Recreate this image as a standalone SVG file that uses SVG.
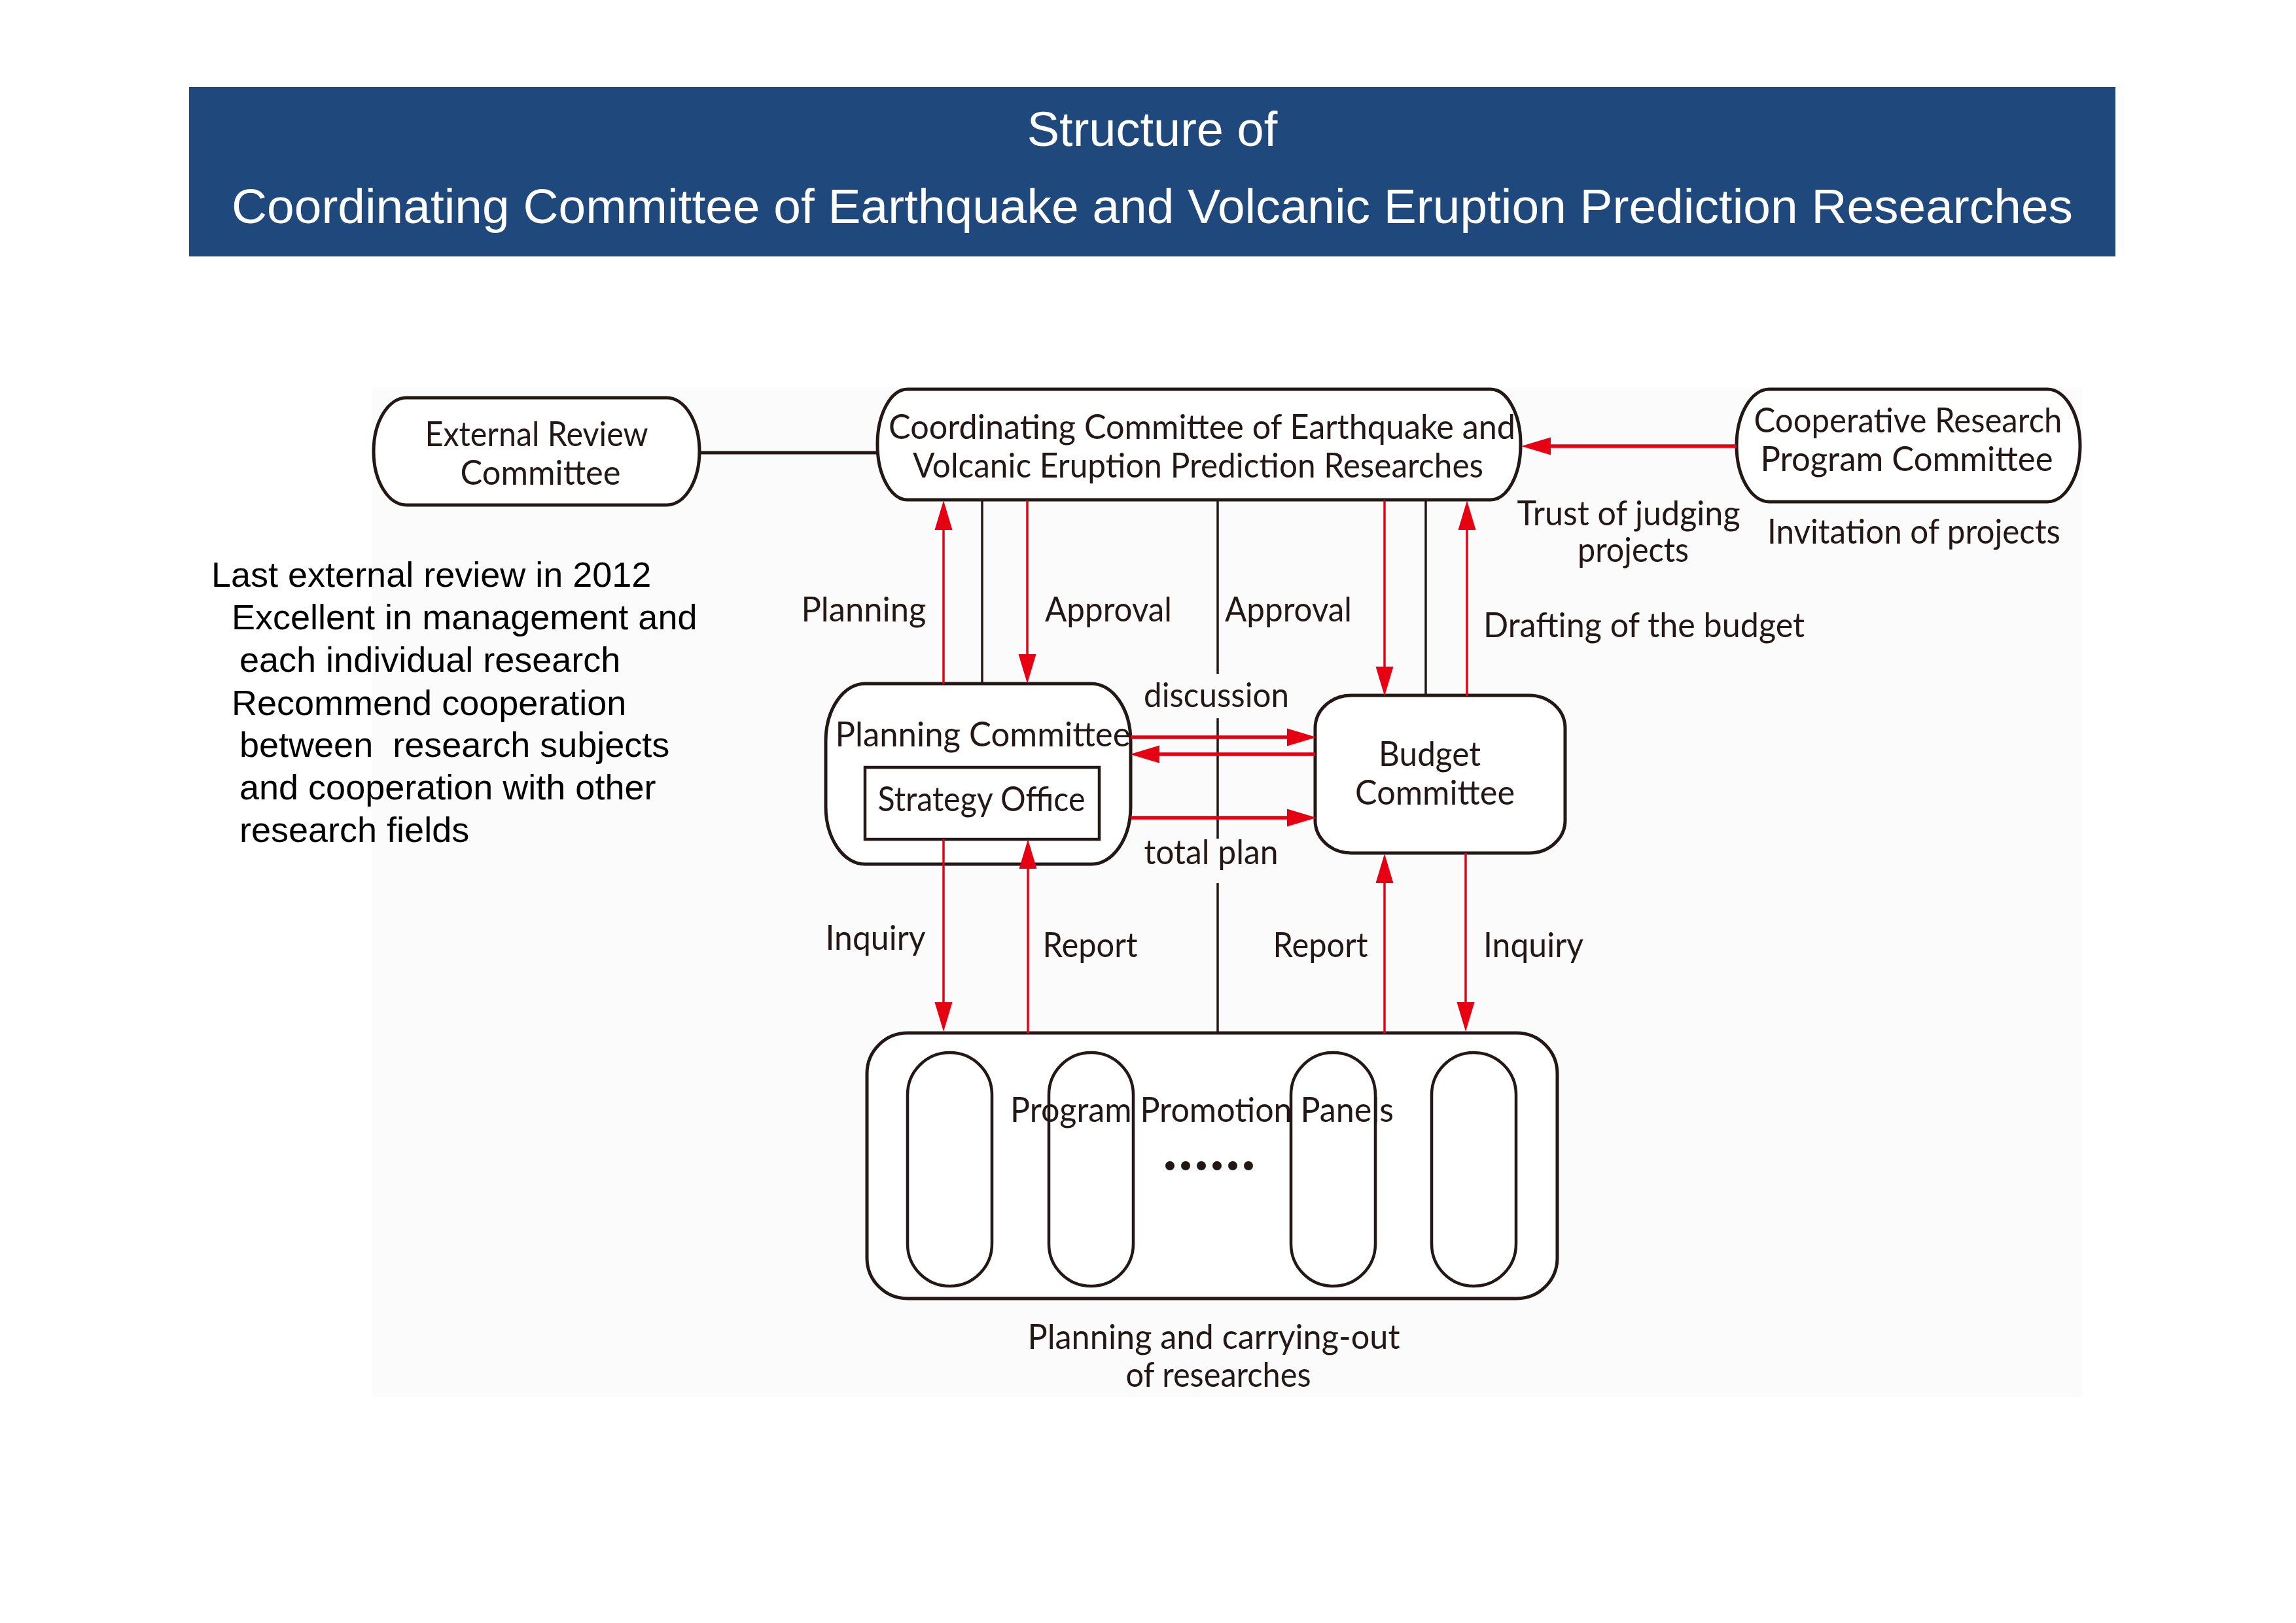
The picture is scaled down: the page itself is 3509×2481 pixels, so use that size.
<svg xmlns="http://www.w3.org/2000/svg" width="3509" height="2481" viewBox="0 0 3509 2481">
<style>
.bg{fill:#ffffff}
.panelbg{fill:#fbfbfb}
.node{fill:#ffffff;stroke:#231815;stroke-width:5}
.pill{fill:none;stroke:#231815;stroke-width:4.5}
.lbl{font-family:Lato,"Open Sans","Liberation Sans",sans-serif;font-size:52px;fill:#231815;text-anchor:middle}
.lbll{font-family:Lato,"Open Sans","Liberation Sans",sans-serif;font-size:52px;fill:#231815;text-anchor:start}
.note{font-family:"Liberation Sans",Arial,sans-serif;font-size:54px;fill:#000000;white-space:pre}
.title{font-family:"Liberation Sans",Arial,sans-serif;font-size:74px;fill:#ffffff;text-anchor:middle}
.red{stroke:#e60012;stroke-width:3.5;fill:none}
.redt{stroke:#e60012;stroke-width:5.5;fill:none}
.blk{stroke:#231815;stroke-width:3.5;fill:none}
.blkt{stroke:#231815;stroke-width:5;fill:none}
.dot{fill:#231815}
</style>
<defs>
<marker id="ah" markerUnits="userSpaceOnUse" markerWidth="46" markerHeight="28" refX="5" refY="14" orient="auto" viewBox="0 0 46 28">
<path d="M0,0.5 L45,14 L0,27.5 Z" fill="#e60012"/>
</marker>
</defs>
<rect class="bg" x="0" y="0" width="3509" height="2481"/>
<rect class="panelbg" x="568" y="593" width="2614" height="1542"/>

<g id="title">
<rect x="289" y="133" width="2944" height="259" fill="#1f497d"/>
<text class="title" x="1761" y="223">Structure of</text>
<text class="title" x="1761" y="341" textLength="2814" lengthAdjust="spacingAndGlyphs">Coordinating Committee of Earthquake and Volcanic Eruption Prediction Researches</text>
</g>

<g id="review-note">
<text class="note" x="323" y="897">Last external review in 2012</text>
<text class="note" x="354" y="962">Excellent in management and</text>
<text class="note" x="366" y="1027">each individual research</text>
<text class="note" x="354" y="1093">Recommend cooperation</text>
<text class="note" x="366" y="1157">between  research subjects</text>
<text class="note" x="366" y="1222">and cooperation with other</text>
<text class="note" x="366" y="1287">research fields</text>
</g>

<g id="external-review">
<rect class="node" x="571" y="608" width="498" height="164" rx="50" ry="82"/>
<text class="lbl" x="820" y="682" textLength="341" lengthAdjust="spacingAndGlyphs">External Review</text>
<text class="lbl" x="826" y="741" textLength="245" lengthAdjust="spacingAndGlyphs">Committee</text>
</g>

<g id="coordinating">
<rect class="node" x="1341" y="595" width="983" height="169" rx="46" ry="84"/>
<text class="lbl" x="1837" y="671" textLength="958" lengthAdjust="spacingAndGlyphs">Coordinating Committee of Earthquake and</text>
<text class="lbl" x="1831" y="730" textLength="872" lengthAdjust="spacingAndGlyphs">Volcanic Eruption Prediction Researches</text>
</g>

<g id="cooperative">
<rect class="node" x="2654" y="595" width="525" height="172" rx="50" ry="86"/>
<text class="lbl" x="2916" y="661" textLength="471" lengthAdjust="spacingAndGlyphs">Cooperative Research</text>
<text class="lbl" x="2914" y="720" textLength="447" lengthAdjust="spacingAndGlyphs">Program Committee</text>
</g>

<g id="planning">
<rect class="node" x="1262" y="1045" width="466" height="276" rx="60" ry="88"/>
<text class="lbl" x="1502" y="1141" textLength="451" lengthAdjust="spacingAndGlyphs">Planning Committee</text>
</g>

<g id="strategy-office">
<rect x="1322" y="1173" width="358" height="110" fill="#ffffff" stroke="#231815" stroke-width="4.5"/>
<text class="lbl" x="1500" y="1240" textLength="317" lengthAdjust="spacingAndGlyphs">Strategy Office</text>
</g>

<g id="budget">
<rect class="node" x="2010" y="1063" width="382" height="241" rx="55" ry="50"/>
<text class="lbl" x="2185" y="1171" textLength="156" lengthAdjust="spacingAndGlyphs">Budget</text>
<text class="lbl" x="2193" y="1230" textLength="244" lengthAdjust="spacingAndGlyphs">Committee</text>
</g>

<g id="panels">
<rect class="node" x="1325" y="1579" width="1055" height="406" rx="62" ry="62"/>
<rect class="pill" x="1387" y="1609" width="129" height="357" rx="64.5" ry="64.5"/>
<rect class="pill" x="1603" y="1609" width="129" height="357" rx="64.5" ry="64.5"/>
<rect class="pill" x="1973" y="1609" width="129" height="357" rx="64.5" ry="64.5"/>
<rect class="pill" x="2188" y="1609" width="129" height="357" rx="64.5" ry="64.5"/>
<text class="lbl" x="1837" y="1715" textLength="586" lengthAdjust="spacingAndGlyphs">Program Promotion Panels</text>
<circle class="dot" cx="1788" cy="1782" r="7"/>
<circle class="dot" cx="1812" cy="1782" r="7"/>
<circle class="dot" cx="1836" cy="1782" r="7"/>
<circle class="dot" cx="1860" cy="1782" r="7"/>
<circle class="dot" cx="1884" cy="1782" r="7"/>
<circle class="dot" cx="1908" cy="1782" r="7"/>
</g>

<g id="panels-caption">
<text class="lbl" x="1855" y="2062" textLength="569" lengthAdjust="spacingAndGlyphs">Planning and carrying-out</text>
<text class="lbl" x="1862" y="2120" textLength="283" lengthAdjust="spacingAndGlyphs">of researches</text>
</g>

<g id="connectors">
<path class="blkt" d="M1069,692 H1341"/>
<path class="redt" d="M2654,682 H2365" marker-end="url(#ah)"/>
<path class="red" d="M1442,1045 V805" marker-end="url(#ah)"/>
<path class="blk" d="M1501,765 V1045"/>
<path class="red" d="M1570,765 V1005" marker-end="url(#ah)"/>
<path class="blk" d="M1861,765 V1030 M1861,1098 V1282 M1861,1350 V1579"/>
<path class="red" d="M2116,765 V1024" marker-end="url(#ah)"/>
<path class="blk" d="M2179,765 V1064"/>
<path class="red" d="M2242,1064 V805" marker-end="url(#ah)"/>
<path class="redt" d="M1728,1127 H1972" marker-end="url(#ah)"/>
<path class="redt" d="M2010,1153 H1767" marker-end="url(#ah)"/>
<path class="redt" d="M1728,1250 H1972" marker-end="url(#ah)"/>
<path class="red" d="M1442,1283 V1537" marker-end="url(#ah)"/>
<path class="red" d="M1571,1579 V1323" marker-end="url(#ah)"/>
<path class="red" d="M2116,1579 V1345" marker-end="url(#ah)"/>
<path class="red" d="M2240,1304 V1537" marker-end="url(#ah)"/>
</g>

<g id="connector-labels">
<text class="lbl" x="2489" y="803" textLength="341" lengthAdjust="spacingAndGlyphs">Trust of judging</text>
<text class="lbl" x="2496" y="859" textLength="170" lengthAdjust="spacingAndGlyphs">projects</text>
<text class="lbl" x="2925" y="831" textLength="448" lengthAdjust="spacingAndGlyphs">Invitation of projects</text>
<text class="lbl" x="1320" y="950" textLength="191" lengthAdjust="spacingAndGlyphs">Planning</text>
<text class="lbl" x="1694" y="950" textLength="194" lengthAdjust="spacingAndGlyphs">Approval</text>
<text class="lbl" x="1969" y="950" textLength="194" lengthAdjust="spacingAndGlyphs">Approval</text>
<text class="lbll" x="2267" y="974" textLength="491" lengthAdjust="spacingAndGlyphs">Drafting of the budget</text>
<text class="lbl" x="1859" y="1081" textLength="222" lengthAdjust="spacingAndGlyphs">discussion</text>
<text class="lbl" x="1851" y="1321" textLength="205" lengthAdjust="spacingAndGlyphs">total plan</text>
<text class="lbl" x="1338" y="1452" textLength="153" lengthAdjust="spacingAndGlyphs">Inquiry</text>
<text class="lbl" x="1666" y="1463" textLength="145" lengthAdjust="spacingAndGlyphs">Report</text>
<text class="lbl" x="2018" y="1463" textLength="145" lengthAdjust="spacingAndGlyphs">Report</text>
<text class="lbll" x="2267" y="1463" textLength="153" lengthAdjust="spacingAndGlyphs">Inquiry</text>
</g>
</svg>
